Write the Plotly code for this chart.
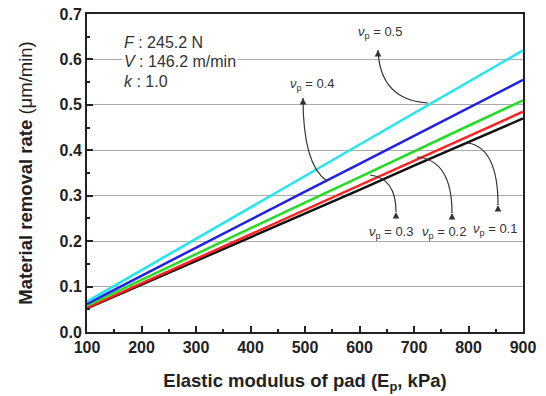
import plotly.graph_objects as go

modulus = [100, 200, 300, 400, 500, 600, 700, 800, 900]
mrr_05 = [0.067, 0.136, 0.205, 0.274, 0.343, 0.412, 0.482, 0.551, 0.620]
mrr_04 = [0.062, 0.124, 0.185, 0.247, 0.309, 0.370, 0.432, 0.493, 0.555]
mrr_03 = [0.058, 0.115, 0.172, 0.229, 0.285, 0.341, 0.398, 0.454, 0.510]
mrr_02 = [0.053, 0.107, 0.161, 0.215, 0.269, 0.323, 0.377, 0.431, 0.485]
mrr_01 = [0.052, 0.104, 0.156, 0.208, 0.261, 0.313, 0.366, 0.418, 0.470]

series = [
    ("0.1", mrr_01, "#111111"),
    ("0.2", mrr_02, "#ff2020"),
    ("0.3", mrr_03, "#22dd22"),
    ("0.4", mrr_04, "#2020e8"),
    ("0.5", mrr_05, "#22e6ee"),
]

FONT = "Arial, Liberation Sans, sans-serif"
TXT = "#333333"

fig = go.Figure()
for name, ys, col in series:
    fig.add_trace(go.Scatter(x=modulus, y=ys, mode="lines", name=name,
                             line=dict(color=col, width=2.5), showlegend=False))

# pixel -> data helpers for annotation placement (plot area 87..523 x, 14..332 y)
def dx(px):
    return 100 + (px - 87) / 436 * 800

def dy(py):
    return (332 - py) / 318 * 0.7

# curved arrows: (start, control, tip)
arrows = [
    ((428, 103), (380, 100), (378, 50)),
    ((327, 181), (303, 165), (303, 98)),
    ((370, 175), (396, 178), (396, 212)),
    ((417, 157), (452, 160), (452, 213)),
    ((468, 143), (498, 148), (498, 205)),
]
for s, c, t in arrows:
    path = "M {},{} Q {},{} {},{}".format(dx(s[0]), dy(s[1]), dx(c[0]), dy(c[1]),
                                          dx(t[0]), dy(t[1]))
    fig.add_shape(type="path", path=path, xref="x", yref="y",
                  line=dict(color="#333333", width=1.2))
    fig.add_annotation(x=dx(t[0]), y=dy(t[1]), ax=dx(t[0]), ay=dy(t[1] + 6),
                       axref="x", ayref="y", xref="x", yref="y", text="",
                       showarrow=True, arrowhead=2, arrowsize=1.1, arrowwidth=1.2,
                       arrowcolor="#333333")

labels = [
    ("0.5", 380, 32),
    ("0.4", 312, 84),
    ("0.3", 391, 232),
    ("0.2", 444, 232),
    ("0.1", 495, 229),
]
for val, px, py in labels:
    fig.add_annotation(x=dx(px), y=dy(py), xref="x", yref="y", showarrow=False,
                       text="<i>ν</i><sub>p</sub> = " + val,
                       font=dict(family=FONT, size=13, color=TXT))

params = [("F", "245.2 N", 42), ("V", "146.2 m/min", 61), ("k", "1.0", 81)]
for sym, val, py in params:
    fig.add_annotation(x=dx(122), y=dy(py), xref="x", yref="y", showarrow=False,
                       xanchor="left", text="<i>{}</i> : {}".format(sym, val),
                       bgcolor="white", borderpad=1,
                       font=dict(family=FONT, size=16, color=TXT))

fig.update_layout(
    width=546, height=396,
    margin=dict(l=87, r=23, t=14, b=64),
    paper_bgcolor="white", plot_bgcolor="white",
    font=dict(family=FONT, color="#222222"),
    xaxis=dict(range=[100, 900], tickmode="array",
               tickvals=modulus, ticktext=["<b>%d</b>" % v for v in modulus],
               ticks="inside", ticklen=6, tickwidth=1.5, tickcolor="#222",
               minor=dict(ticks="inside", ticklen=3, tickwidth=1.5, dtick=50, tickcolor="#222"),
               showline=True, linecolor="#222", linewidth=2, mirror=True,
               showgrid=False, zeroline=False, automargin=False,
               tickfont=dict(family=FONT, size=16, color="#222"),
               title=dict(text="<b>Elastic modulus of pad (E<sub>p</sub>, kPa)</b>",
                          font=dict(family=FONT, size=18.5, color="#222"), standoff=19)),
    yaxis=dict(range=[0, 0.7], tickmode="array",
               tickvals=[0, 0.1, 0.2, 0.3, 0.4, 0.5, 0.6, 0.7],
               ticktext=["<b>0.0</b>", "<b>0.1</b>", "<b>0.2</b>", "<b>0.3</b>",
                         "<b>0.4</b>", "<b>0.5</b>", "<b>0.6</b>", "<b>0.7</b>"],
               ticks="inside", ticklen=6, tickwidth=1.5, tickcolor="#222",
               minor=dict(ticks="inside", ticklen=3, tickwidth=1.5, dtick=0.05, tickcolor="#222"),
               showline=True, linecolor="#222", linewidth=2, mirror=True,
               showgrid=True, gridcolor="#aaaaaa", gridwidth=1, zeroline=False,
               automargin=False,
               tickfont=dict(family=FONT, size=16, color="#222"),
               title=dict(text="<b>Material removal rate</b> (μm/min)",
                          font=dict(family=FONT, size=18.5, color="#222"), standoff=22)),
)

fig.write_html("out.html", config={"displayModeBar": False},
               post_script="document.body.style.margin='0px';")
